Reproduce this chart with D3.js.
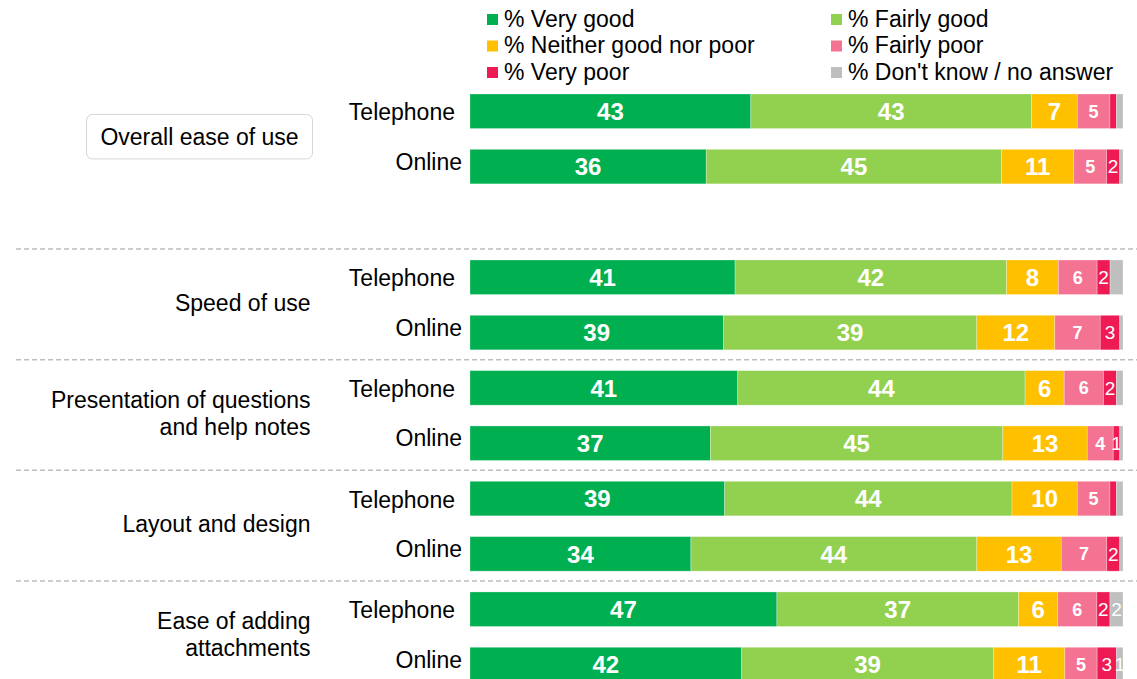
<!DOCTYPE html>
<html>
<head>
<meta charset="utf-8">
<script src="https://cdn.jsdelivr.net/npm/d3@7"></script>
<style>
  html, body { margin: 0; padding: 0; background: #fff; }
  svg { display: block; font-family: "Liberation Sans", Arial, Helvetica, sans-serif; }
</style>
</head>
<body>
<svg id="chart" width="1137" height="679"></svg>
<script>
// Survey aspects and the two channels rated for each
const aspects = [
  ["Overall ease of use"],
  ["Speed of use"],
  ["Presentation of questions", "and help notes"],
  ["Layout and design"],
  ["Ease of adding", "attachments"]
];
const channels = ["Telephone", "Online"];

// Rating categories (legend order: left column then right column)
const seriesKeys = ["veryGood", "fairlyGood", "neither", "fairlyPoor", "veryPoor", "dontKnow"];
const seriesNames = ["% Very good", "% Fairly good", "% Neither good nor poor", "% Fairly poor", "% Very poor", "% Don't know / no answer"];
const seriesColors = ["#00b050", "#92d050", "#ffc000", "#f47393", "#ee1a53", "#bfbfbf"];

// Percentages per row: Overall T, Overall O, Speed T, Speed O, Presentation T, Presentation O,
// Layout T, Layout O, Attachments T, Attachments O
const veryGood   = [43, 36, 41, 39, 41, 37, 39, 34, 47, 42];
const fairlyGood = [43, 45, 42, 39, 44, 45, 44, 44, 37, 39];
const neither    = [7, 11, 8, 12, 6, 13, 10, 13, 6, 11];
const fairlyPoor = [5, 5, 6, 7, 6, 4, 5, 7, 6, 5];
const veryPoor   = [1, 2, 2, 3, 2, 1, 1, 2, 2, 3];
const dontKnow   = [1, 0.5, 2, 0.5, 1, 0.5, 1, 0.5, 2, 1];

// Segments that carry no printed value (row index, series key)
const unlabelled = [
  [0, "veryPoor"], [0, "dontKnow"], [1, "dontKnow"], [2, "dontKnow"], [3, "dontKnow"],
  [4, "dontKnow"], [5, "dontKnow"], [6, "veryPoor"], [6, "dontKnow"], [7, "dontKnow"]
];

const seriesValues = { veryGood, fairlyGood, neither, fairlyPoor, veryPoor, dontKnow };

// Build row records
const rows = [];
aspects.forEach((a, gi) => {
  channels.forEach((c, ci) => {
    const idx = gi * 2 + ci;
    const r = { id: gi + "|" + c, group: gi, channel: c, index: idx };
    seriesKeys.forEach(k => r[k] = seriesValues[k][idx]);
    rows.push(r);
  });
});
const hidden = new Set(unlabelled.map(([i, k]) => i + "|" + k));

// Vertical slots: an empty spacer slot follows the first aspect
const slots = [rows[0].id, rows[1].id, "spacer"].concat(rows.slice(2).map(r => r.id));

const svg = d3.select("#chart");

const x = d3.scaleLinear().domain([0, 1]).range([470, 1123]);
const y = d3.scaleBand().domain(slots).range([94, 681.8]).paddingInner(0.376).paddingOuter(0);

const stack = d3.stack().keys(seriesKeys).offset(d3.stackOffsetExpand);
const stacked = stack(rows);

const textColor = "#000";
const fontSize = 23;

// Dashed separators between aspects
svg.append("g").selectAll("line")
  .data(aspects.slice(1).map((a, i) => rows[(i + 1) * 2]))
  .join("line")
  .attr("x1", 16).attr("x2", 1137)
  .attr("y1", d => y(d.id) - 11).attr("y2", d => y(d.id) - 11)
  .attr("stroke", "#bdbdbd").attr("stroke-width", 1.5)
  .attr("stroke-dasharray", "5,3");

// Bars
const layers = svg.append("g").selectAll("g")
  .data(stacked)
  .join("g")
  .attr("fill", (d, i) => seriesColors[i]);

layers.selectAll("rect")
  .data(d => d.map(p => ({ p, key: d.key })))
  .join("rect")
  .attr("x", d => x(d.p[0]))
  .attr("width", d => x(d.p[1]) - x(d.p[0]))
  .attr("y", d => y(d.p.data.id))
  .attr("height", y.bandwidth())
  .attr("stroke", "rgba(255,255,255,0.35)")
  .attr("stroke-width", 0.8);

// Value labels inside segments
const labelStyle = {
  veryGood:   { size: 24, weight: "bold" },
  fairlyGood: { size: 24, weight: "bold" },
  neither:    { size: 24, weight: "bold" },
  fairlyPoor: { size: 18, weight: "bold" },
  veryPoor:   { size: 19, weight: "normal" },
  dontKnow:   { size: 19, weight: "normal" }
};

layers.selectAll("text")
  .data(d => d.map(p => ({ p, key: d.key }))
    .filter(d => !hidden.has(d.p.data.index + "|" + d.key) && d.p.data[d.key] >= 1))
  .join("text")
  .attr("x", d => (x(d.p[0]) + x(d.p[1])) / 2)
  .attr("y", d => y(d.p.data.id) + y.bandwidth() / 2)
  .attr("dy", d => labelStyle[d.key].size * 0.36)
  .attr("text-anchor", "middle")
  .attr("fill", "#fff")
  .attr("font-size", d => labelStyle[d.key].size)
  .attr("font-weight", d => labelStyle[d.key].weight)
  .text(d => Math.round(d.p.data[d.key]));

// Channel labels
svg.append("g").selectAll("text")
  .data(rows)
  .join("text")
  .attr("x", d => d.channel === "Telephone" ? 455 : 462)
  .attr("y", d => y(d.id) + y.bandwidth() / 2 + (d.channel === "Telephone" ? 1 : -5))
  .attr("dy", 8)
  .attr("text-anchor", "end")
  .attr("font-size", fontSize)
  .attr("fill", textColor)
  .text(d => d.channel);

// Aspect labels
const aspectG = svg.append("g");
aspects.forEach((lines, gi) => {
  const top = y(rows[gi * 2].id);
  const bottom = y(rows[gi * 2 + 1].id) + y.bandwidth();
  const cy = (top + bottom) / 2 - 2;
  if (gi === 0) {
    aspectG.append("rect")
      .attr("x", 86.5).attr("y", cy - 22.5)
      .attr("width", 226).attr("height", 44.5)
      .attr("rx", 6).attr("ry", 6)
      .attr("fill", "#fff").attr("stroke", "#d6d6d6").attr("stroke-width", 1);
    aspectG.append("text")
      .attr("x", 199.5).attr("y", cy).attr("dy", 8)
      .attr("text-anchor", "middle").attr("font-size", fontSize).attr("fill", textColor)
      .text(lines[0]);
  } else {
    const lh = 27;
    const t = aspectG.append("text")
      .attr("text-anchor", "end").attr("font-size", fontSize).attr("fill", textColor);
    lines.forEach((ln, li) => {
      t.append("tspan")
        .attr("x", 310.5)
        .attr("y", cy + (li - (lines.length - 1) / 2) * lh)
        .attr("dy", 8)
        .text(ln);
    });
  }
});

// Legend: three rows, two columns
const legend = svg.append("g");
const legendItems = seriesNames.map((n, i) => ({ name: n, color: seriesColors[i], i }));
const colX = [487, 831];
const legendRow = d3.scaleLinear().domain([0, 1]).range([14, 40.5]);
legendItems.forEach(it => {
  const col = it.i % 2, row = Math.floor(it.i / 2);
  const gx = colX[col], gy = legendRow(row);
  legend.append("rect")
    .attr("x", gx).attr("y", gy).attr("width", 11).attr("height", 11)
    .attr("fill", it.color);
  legend.append("text")
    .attr("x", gx + 17).attr("y", gy + 12.7)
    .attr("font-size", fontSize).attr("fill", textColor)
    .text(it.name);
});
</script>
</body>
</html>
